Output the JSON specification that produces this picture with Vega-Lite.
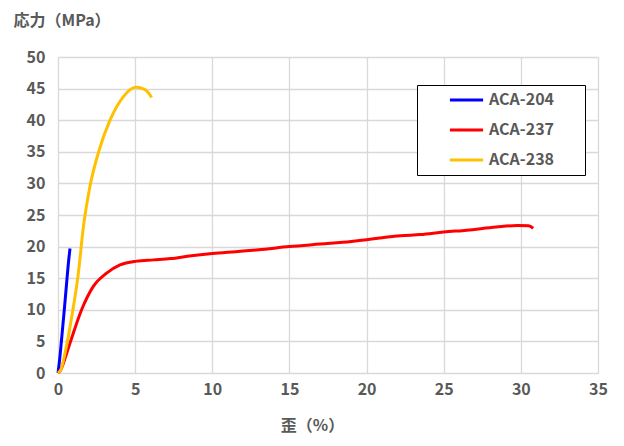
{
  "$schema": "https://vega.github.io/schema/vega-lite/v6.json",
  "width": 540,
  "height": 316,
  "autosize": {"type": "none"},
  "padding": {"left": 58, "top": 57, "right": 26, "bottom": 73},
  "background": "white",
  "config": {
    "view": {"stroke": null},
    "font": "Noto Sans CJK JP"
  },
  "data": {
    "values": [
      {"series": "ACA-204", "strain": 0, "stress": 0},
      {"series": "ACA-204", "strain": 0.1, "stress": 2.0},
      {"series": "ACA-204", "strain": 0.25, "stress": 5.8},
      {"series": "ACA-204", "strain": 0.4, "stress": 9.8},
      {"series": "ACA-204", "strain": 0.55, "stress": 14.0},
      {"series": "ACA-204", "strain": 0.7, "stress": 18.0},
      {"series": "ACA-204", "strain": 0.78, "stress": 19.7},
      {"series": "ACA-237", "strain": 0, "stress": 0},
      {"series": "ACA-237", "strain": 0.13, "stress": 0.3},
      {"series": "ACA-237", "strain": 0.56, "stress": 3.1},
      {"series": "ACA-237", "strain": 0.99, "stress": 6.3},
      {"series": "ACA-237", "strain": 1.53, "stress": 10.0},
      {"series": "ACA-237", "strain": 2.29, "stress": 13.7},
      {"series": "ACA-237", "strain": 3.15, "stress": 15.8},
      {"series": "ACA-237", "strain": 4.02, "stress": 17.1},
      {"series": "ACA-237", "strain": 5.1, "stress": 17.7},
      {"series": "ACA-237", "strain": 6.2, "stress": 17.9},
      {"series": "ACA-237", "strain": 7.3, "stress": 18.1},
      {"series": "ACA-237", "strain": 8.5, "stress": 18.5},
      {"series": "ACA-237", "strain": 10, "stress": 18.9},
      {"series": "ACA-237", "strain": 11.5, "stress": 19.2},
      {"series": "ACA-237", "strain": 13, "stress": 19.5},
      {"series": "ACA-237", "strain": 15, "stress": 20.0},
      {"series": "ACA-237", "strain": 17, "stress": 20.4},
      {"series": "ACA-237", "strain": 19, "stress": 20.8},
      {"series": "ACA-237", "strain": 20, "stress": 21.1},
      {"series": "ACA-237", "strain": 21, "stress": 21.4},
      {"series": "ACA-237", "strain": 22.2, "stress": 21.7},
      {"series": "ACA-237", "strain": 23.5, "stress": 21.9},
      {"series": "ACA-237", "strain": 25, "stress": 22.3},
      {"series": "ACA-237", "strain": 26.5, "stress": 22.6},
      {"series": "ACA-237", "strain": 28.4, "stress": 23.1},
      {"series": "ACA-237", "strain": 29.8, "stress": 23.35},
      {"series": "ACA-237", "strain": 30.5, "stress": 23.3},
      {"series": "ACA-237", "strain": 30.8, "stress": 22.9},
      {"series": "ACA-238", "strain": 0, "stress": 0},
      {"series": "ACA-238", "strain": 0.2, "stress": 0.6},
      {"series": "ACA-238", "strain": 0.45, "stress": 3.1},
      {"series": "ACA-238", "strain": 0.89, "stress": 8.9},
      {"series": "ACA-238", "strain": 1.32, "stress": 15.8},
      {"series": "ACA-238", "strain": 1.64, "stress": 23.0},
      {"series": "ACA-238", "strain": 2.07, "stress": 29.5},
      {"series": "ACA-238", "strain": 2.61, "stress": 34.8},
      {"series": "ACA-238", "strain": 3.37, "stress": 40.0},
      {"series": "ACA-238", "strain": 4.23, "stress": 43.7},
      {"series": "ACA-238", "strain": 5.03, "stress": 45.2},
      {"series": "ACA-238", "strain": 5.5, "stress": 45.0},
      {"series": "ACA-238", "strain": 5.8, "stress": 44.5},
      {"series": "ACA-238", "strain": 6.07, "stress": 43.6}
    ]
  },
  "mark": {"type": "line", "strokeWidth": 3, "interpolate": "monotone"},
  "encoding": {
    "x": {
      "field": "strain",
      "type": "quantitative",
      "scale": {"domain": [0, 35], "nice": false},
      "axis": {
        "values": [0, 5, 10, 15, 20, 25, 30, 35],
        "title": "歪（%）",
        "titleFontSize": 16,
        "titleFontWeight": "bold",
        "titleColor": "#595959",
        "titleX": 254,
        "titleY": 52,
        "titleBaseline": "middle",
        "labelFontSize": 16,
        "labelFontWeight": "bold",
        "labelColor": "#595959",
        "labelPadding": 8,
        "labelFlush": false,
        "ticks": false,
        "domainColor": "#d9d9d9",
        "gridColor": "#d9d9d9",
        "gridWidth": 1.3
      }
    },
    "y": {
      "field": "stress",
      "type": "quantitative",
      "scale": {"domain": [0, 50], "nice": false},
      "axis": {
        "values": [0, 5, 10, 15, 20, 25, 30, 35, 40, 45, 50],
        "title": "応力（MPa）",
        "titleAngle": 0,
        "titleAlign": "left",
        "titleBaseline": "middle",
        "titleX": -45,
        "titleY": -37,
        "titleFontSize": 16,
        "titleFontWeight": "bold",
        "titleColor": "#595959",
        "labelFontSize": 16,
        "labelFontWeight": "bold",
        "labelColor": "#595959",
        "labelPadding": 13,
        "ticks": false,
        "domainColor": "#d9d9d9",
        "gridColor": "#d9d9d9",
        "gridWidth": 1.3
      }
    },
    "color": {
      "field": "series",
      "type": "nominal",
      "scale": {"domain": ["ACA-204", "ACA-237", "ACA-238"], "range": ["#0000FF", "#FF0000", "#FFC000"]},
      "legend": {
        "title": "MM",
        "titleColor": "white",
        "titleOrient": "right",
        "titleFontSize": 14,
        "titlePadding": 0,
        "orient": "none",
        "legendX": 359,
        "legendY": 28,
        "strokeColor": "black",
        "fillColor": "white",
        "padding": 7,
        "symbolType": "M-1,0L1,0",
        "symbolSize": 1100,
        "symbolStrokeWidth": 3,
        "symbolOffset": 24,
        "clipHeight": 16,
        "labelFontSize": 16,
        "labelFontWeight": "bold",
        "labelColor": "#595959",
        "labelOffset": 4,
        "rowPadding": 14
      }
    }
  }
}
